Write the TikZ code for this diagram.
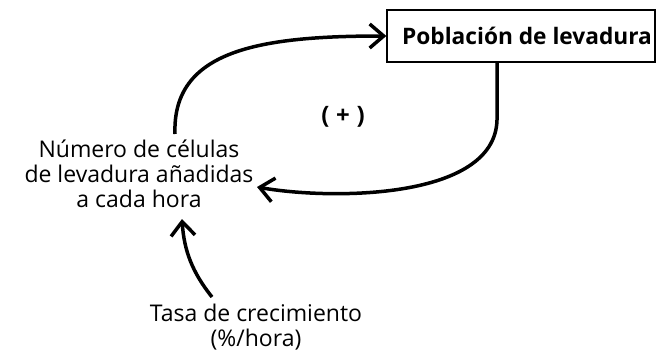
\documentclass[tikz,border=0pt]{standalone}
\usepackage{fontspec}
\setmainfont{Open Sans}
\usetikzlibrary{arrows.meta}
\begin{document}
\begin{tikzpicture}[x=1pt,y=-1pt,
  lbl/.style={font=\fontsize{23}{25}\selectfont, align=center, inner sep=0pt},
  boxnode/.style={draw, line width=1.3pt, font=\bfseries\fontsize{22.7}{25}\selectfont, minimum width=268pt, minimum height=52pt, inner sep=0pt},
  conn/.style={line width=3.5pt, -{Straight Barb[length=14pt,width=24pt,line width=3.5pt]}}]
\useasboundingbox (0,0) rectangle (656,351);
\node[boxnode] (pob) at (521,36) {\hspace*{12pt}Población de levadura};
\node[lbl] (num) at (139,174) {Número de células\\de levadura añadidas\\a cada hora};
\node[lbl] (tasa) at (256,327) {Tasa de crecimiento\\(\%/hora)};
\node[font=\bfseries\fontsize{24}{26}\selectfont, inner sep=0pt] (plus) at (343,117) {(\;+\;)};
\coordinate (a1) at (175,134);
\coordinate (b1) at (497,62);
\coordinate (c1) at (212,297);
\draw[conn] (a1) .. controls (172,50) and (260,36) .. (pob.west);
\draw[conn] (b1) -- (497,120) .. controls (495,200) and (330,200) .. (257,187);
\draw[conn] (c1) .. controls (192,272) and (184,250) .. (182,219);
\end{tikzpicture}
\end{document}
